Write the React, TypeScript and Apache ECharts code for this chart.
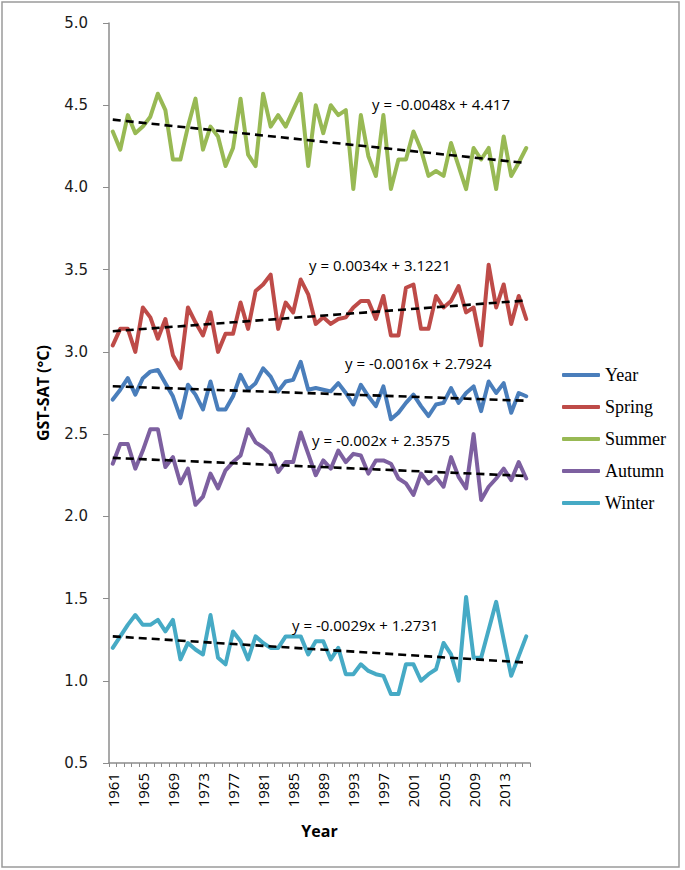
import React, { useEffect, useRef } from "react";
import * as echarts from "echarts";

const years = [
  "1961","1962","1963","1964","1965","1966","1967","1968","1969","1970",
  "1971","1972","1973","1974","1975","1976","1977","1978","1979","1980",
  "1981","1982","1983","1984","1985","1986","1987","1988","1989","1990",
  "1991","1992","1993","1994","1995","1996","1997","1998","1999","2000",
  "2001","2002","2003","2004","2005","2006","2007","2008","2009","2010",
  "2011","2012","2013","2014","2015","2016",
];

const yearVals = [
  2.71, 2.77, 2.84, 2.74, 2.84, 2.88, 2.89, 2.81, 2.73, 2.60, 2.80, 2.74, 2.65, 2.82, 2.65, 2.65,
  2.73, 2.86, 2.77, 2.81, 2.90, 2.85, 2.76, 2.82, 2.83, 2.94, 2.77, 2.78, 2.77, 2.76, 2.81, 2.75,
  2.68, 2.80, 2.73, 2.67, 2.79, 2.59, 2.63, 2.69, 2.74, 2.67, 2.61, 2.68, 2.69, 2.78, 2.69, 2.75,
  2.79, 2.64, 2.82, 2.75, 2.81, 2.63, 2.75, 2.73,
];
const springVals = [
  3.04, 3.14, 3.14, 3.00, 3.27, 3.21, 3.08, 3.20, 2.98, 2.90, 3.27, 3.18, 3.10, 3.24, 3.00, 3.11,
  3.11, 3.30, 3.14, 3.37, 3.41, 3.47, 3.14, 3.30, 3.24, 3.44, 3.35, 3.17, 3.21, 3.17, 3.20, 3.21,
  3.27, 3.31, 3.31, 3.20, 3.34, 3.10, 3.10, 3.39, 3.41, 3.14, 3.14, 3.34, 3.27, 3.31, 3.40, 3.24,
  3.27, 3.04, 3.53, 3.27, 3.41, 3.17, 3.34, 3.20,
];
const summerVals = [
  4.34, 4.23, 4.44, 4.33, 4.37, 4.43, 4.57, 4.47, 4.17, 4.17, 4.37, 4.54, 4.23, 4.37, 4.31, 4.13,
  4.24, 4.54, 4.20, 4.13, 4.57, 4.37, 4.44, 4.37, 4.47, 4.57, 4.13, 4.50, 4.33, 4.50, 4.44, 4.47,
  3.99, 4.44, 4.19, 4.07, 4.44, 3.99, 4.17, 4.17, 4.34, 4.23, 4.07, 4.10, 4.07, 4.27, 4.13, 3.99,
  4.24, 4.17, 4.24, 3.99, 4.31, 4.07, 4.15, 4.24,
];
const autumnVals = [
  2.32, 2.44, 2.44, 2.29, 2.40, 2.53, 2.53, 2.30, 2.36, 2.20, 2.29, 2.07, 2.12, 2.26, 2.17, 2.28,
  2.33, 2.37, 2.53, 2.45, 2.42, 2.38, 2.27, 2.33, 2.33, 2.51, 2.38, 2.25, 2.34, 2.29, 2.40, 2.33,
  2.38, 2.37, 2.26, 2.34, 2.34, 2.32, 2.23, 2.20, 2.13, 2.26, 2.20, 2.24, 2.18, 2.36, 2.24, 2.17,
  2.50, 2.10, 2.18, 2.23, 2.29, 2.22, 2.33, 2.23,
];
const winterVals = [
  1.20, 1.27, 1.34, 1.40, 1.34, 1.34, 1.37, 1.30, 1.37, 1.13, 1.23, 1.19, 1.16, 1.40, 1.14, 1.10,
  1.30, 1.24, 1.13, 1.27, 1.23, 1.20, 1.20, 1.27, 1.27, 1.27, 1.16, 1.24, 1.24, 1.13, 1.20, 1.04,
  1.04, 1.10, 1.06, 1.04, 1.03, 0.92, 0.92, 1.10, 1.10, 1.00, 1.04, 1.07, 1.23, 1.16, 1.00, 1.51,
  1.14, 1.14, 1.31, 1.48, 1.25, 1.03, 1.15, 1.27,
];

const seriesNames = ["Year", "Spring", "Summer", "Autumn", "Winter"];
const seriesColors = ["#4A7EBB", "#BE4B48", "#98B954", "#7D60A0", "#46AAC5"];

// Trend line coefficients, as printed on the chart (x = 1 for 1961)
const trendSlopes = [-0.0016, 0.0034, -0.0048, -0.002, -0.0029];
const trendIntercepts = [2.7924, 3.1221, 4.417, 2.3575, 1.2731];
const trendLabels = [
  "y = -0.0016x + 2.7924",
  "y = 0.0034x + 3.1221",
  "y = -0.0048x + 4.417",
  "y = -0.002x + 2.3575",
  "y = -0.0029x + 1.2731",
];
const yTicks = { min: 0.5, max: 5.0, interval: 0.5 };

export default function App() {
  const ref = useRef<HTMLDivElement>(null);
  useEffect(() => {
    if (!ref.current) return;
    const chart = echarts.init(ref.current, null, { renderer: "svg" });
    const allVals = [yearVals, springVals, summerVals, autumnVals, winterVals];
    const n = years.length;
    const dataSeries = allVals.map((vals, k) => ({
      name: seriesNames[k],
      type: "line",
      data: vals,
      showSymbol: false,
      symbol: "none",
      z: 2 + k,
      lineStyle: { color: seriesColors[k], width: 4, cap: "round", join: "round" },
      itemStyle: { color: seriesColors[k] },
    }));
    const trendSeries = trendSlopes.map((s, k) => ({
      name: "trend" + k,
      type: "line",
      data: [
        [years[0], s * 1 + trendIntercepts[k]],
        [years[n - 1], s * n + trendIntercepts[k]],
      ],
      showSymbol: false,
      symbol: "none",
      z: 10,
      lineStyle: { color: "#000", width: 2.6, type: [8, 5] },
    }));
    const eqPos = [
      [345, 363],
      [309, 265],
      [372, 104],
      [312, 440],
      [292, 625],
    ];
    chart.setOption({
      animation: false,
      backgroundColor: "#fff",
      grid: { left: 109, right: 155, top: 23, bottom: 107, containLabel: false },
      xAxis: {
        type: "category",
        data: years,
        boundaryGap: true,
        name: "Year",
        nameLocation: "middle",
        nameGap: 60,
        nameTextStyle: { fontFamily: "Open Sans", fontWeight: "bold", fontSize: 16, color: "#000" },
        axisLine: { lineStyle: { color: "#8c8c8c", width: 1.5 } },
        axisTick: { show: true, interval: 0, length: 4, lineStyle: { color: "#8c8c8c" } },
        axisLabel: {
          interval: 3,
          rotate: 90,
          margin: 10,
          fontFamily: "Open Sans",
          fontSize: 15,
          color: "#000",
        },
        splitLine: { show: false },
      },
      yAxis: {
        type: "value",
        min: yTicks.min,
        max: yTicks.max,
        interval: yTicks.interval,
        name: "GST-SAT (°C)",
        nameLocation: "middle",
        nameGap: 58,
        nameRotate: 90,
        nameTextStyle: { fontFamily: "Open Sans", fontWeight: "bold", fontSize: 16, color: "#000" },
        axisLine: { show: true, lineStyle: { color: "#8c8c8c", width: 1.5 } },
        axisTick: { show: true, length: 6, lineStyle: { color: "#8c8c8c" } },
        axisLabel: {
          margin: 21,
          fontFamily: "DejaVu Sans",
          fontSize: 15,
          color: "#1a1a1a",
          formatter: (v: number) => v.toFixed(1),
        },
        splitLine: { show: false },
      },
      legend: {
        data: seriesNames,
        orient: "vertical",
        left: 557,
        top: 360,
        itemWidth: 38,
        itemHeight: 4,
        itemGap: 12,
        icon: "roundRect",
        textStyle: { fontFamily: "Liberation Serif", fontSize: 18, color: "#000", lineHeight: 20 },
      },
      series: [...dataSeries, ...trendSeries],
      graphic: [
        {
          type: "rect",
          shape: { x: 2, y: 2, width: 677, height: 865 },
          style: { fill: "none", stroke: "#9a9a9a", lineWidth: 1.5 },
          silent: true,
          z: -1,
        },
        ...trendLabels.map((t, k) => ({
          type: "text",
          x: eqPos[k][0],
          y: eqPos[k][1],
          style: {
            text: t,
            fontFamily: "Open Sans",
            fontSize: 15,
            fill: "#000",
            textVerticalAlign: "middle",
            verticalAlign: "middle",
          },
          z: 20,
        })),
      ],
    });
    return () => chart.dispose();
  }, []);
  return (
    <div
      ref={ref}
      style={{ position: "fixed", left: 0, top: 0, width: 685, height: 870, background: "#fff" }}
    />
  );
}
